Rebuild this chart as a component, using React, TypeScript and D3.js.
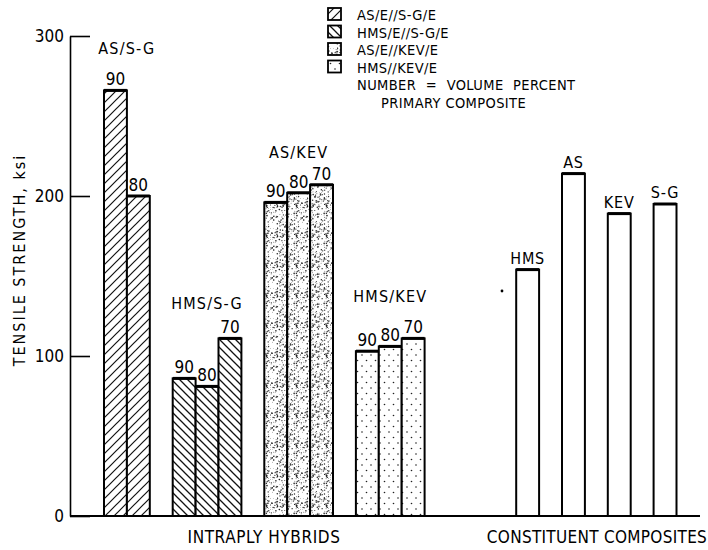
import { useEffect, useRef } from "react";
import { axisLeft, scaleBand, scaleLinear, select } from "d3";

// intraply hybrid groups (volume percent of primary composite above each bar)
const hybridGroups = ["AS/S-G", "HMS/S-G", "AS/KEV", "HMS/KEV"];
const hybridPercents = [
  [90, 80],
  [90, 80, 70],
  [90, 80, 70],
  [90, 80, 70],
];
const hybridStrength = [
  [266, 200],
  [86, 81, 111],
  [196, 202, 207],
  [103, 106, 111],
];

// constituent composites
const constituents = ["HMS", "AS", "KEV", "S-G"];
const constituentStrength = [154, 214, 189, 195];

const yTicks = [0, 100, 200, 300];
const legendLabels = ["AS/E//S-G/E", "HMS/E//S-G/E", "AS/E//KEV/E", "HMS//KEV/E"];
const legendNote = ["NUMBER = VOLUME PERCENT", "PRIMARY COMPOSITE"];

const FONT = "'DejaVu Sans Condensed', 'Liberation Sans Narrow', 'DejaVu Sans', sans-serif";
const patternIds = ["hatch-fwd", "hatch-back", "speckle", "dots"];
// how far each group title sits above its tallest bar
const groupLabelLift = [36, 29, 27, 36];

export default function App() {
  const svgRef = useRef<SVGSVGElement | null>(null);

  useEffect(() => {
    const svg = select(svgRef.current);
    svg.selectAll("*").remove();

    const width = 708;
    const height = 550;
    svg.attr("width", width).attr("height", height);
    svg.append("rect").attr("width", width).attr("height", height).attr("fill", "#fff");

    // ----- patterns
    const defs = svg.append("defs");
    const fwd = defs
      .append("pattern")
      .attr("id", "hatch-fwd")
      .attr("patternUnits", "userSpaceOnUse")
      .attr("width", 9)
      .attr("height", 9);
    fwd.append("rect").attr("width", 9).attr("height", 9).attr("fill", "#fff");
    fwd
      .append("path")
      .attr("d", "M-2,2 l4,-4 M0,9 l9,-9 M7,11 l4,-4")
      .attr("stroke", "#111")
      .attr("stroke-width", 1.2);

    const back = defs
      .append("pattern")
      .attr("id", "hatch-back")
      .attr("patternUnits", "userSpaceOnUse")
      .attr("width", 8)
      .attr("height", 8);
    back.append("rect").attr("width", 8).attr("height", 8).attr("fill", "#fff");
    back
      .append("path")
      .attr("d", "M-2,6 l4,4 M0,0 l8,8 M6,-2 l4,4")
      .attr("stroke", "#111")
      .attr("stroke-width", 1.3);

    // speckle texture: fixed pseudo-random dot layout
    const speck = defs
      .append("pattern")
      .attr("id", "speckle")
      .attr("patternUnits", "userSpaceOnUse")
      .attr("width", 30)
      .attr("height", 30);
    speck.append("rect").attr("width", 30).attr("height", 30).attr("fill", "#fff");
    let seed = 7;
    const lcg = () => {
      seed = (seed * 16807) % 2147483647;
      return (seed - 1) / 2147483646;
    };
    for (let i = 0; i < 170; i++) {
      speck
        .append("circle")
        .attr("cx", lcg() * 30)
        .attr("cy", lcg() * 30)
        .attr("r", 0.3 + lcg() * 0.5)
        .attr("fill", "#222");
    }

    const dots = defs
      .append("pattern")
      .attr("id", "dots")
      .attr("patternUnits", "userSpaceOnUse")
      .attr("width", 9)
      .attr("height", 11);
    dots.append("rect").attr("width", 9).attr("height", 11).attr("fill", "#fff");
    dots.append("circle").attr("cx", 2).attr("cy", 3).attr("r", 0.8).attr("fill", "#222");
    dots.append("circle").attr("cx", 6.5).attr("cy", 8.5).attr("r", 0.8).attr("fill", "#222");

    // ----- scales
    const y = scaleLinear().domain([0, 300]).range([516, 36]);

    // one slot per bar, empty slots between groups
    const slots: string[] = [];
    hybridGroups.forEach((g, gi) => {
      if (gi > 0) slots.push(`gap-${gi}`);
      hybridPercents[gi].forEach((p, j) => slots.push(`${g}-${j}`));
    });
    for (let i = 0; i < 4; i++) slots.push(`sep-${i}`);
    constituents.forEach((c, ci) => {
      if (ci > 0) slots.push(`cgap-${ci}`);
      slots.push(`c-${c}`);
    });
    const x = scaleBand().domain(slots).range([104, 104 + slots.length * 22.9]).padding(0);
    const bw = x.bandwidth();

    // ----- axis
    const yAxis = svg
      .append("g")
      .attr("transform", "translate(70,0)")
      .call(axisLeft(y).tickValues(yTicks).tickSizeInner(-20).tickSizeOuter(0).tickPadding(6));
    yAxis.select(".domain").attr("stroke", "#000").attr("stroke-width", 1.6);
    yAxis.selectAll(".tick line").attr("stroke", "#000").attr("stroke-width", 1.6);
    yAxis
      .selectAll(".tick text")
      .attr("font-family", FONT)
      .attr("font-size", 17)
      .attr("fill", "#000");

    svg
      .append("text")
      .attr("transform", `translate(25,${y(160)}) rotate(-90)`)
      .attr("text-anchor", "middle")
      .attr("font-family", FONT)
      .attr("font-size", 16)
      .attr("letter-spacing", 2)
      .text("TENSILE STRENGTH, ksi");

    // ----- bars
    const bars = svg.append("g");
    const drawBar = (key: string, v: number, fill: string) => {
      bars
        .append("rect")
        .attr("x", x(key)!)
        .attr("y", y(v))
        .attr("width", bw)
        .attr("height", y(0) - y(v))
        .attr("fill", fill)
        .attr("stroke", "#000")
        .attr("stroke-width", 2);
      bars
        .append("line")
        .attr("x1", x(key)!)
        .attr("x2", x(key)! + bw)
        .attr("y1", y(v))
        .attr("y2", y(v))
        .attr("stroke", "#000")
        .attr("stroke-width", 3);
    };

    const labels = svg
      .append("g")
      .attr("font-family", FONT)
      .attr("text-anchor", "middle");

    hybridGroups.forEach((g, gi) => {
      const vals = hybridStrength[gi];
      vals.forEach((v, j) => {
        const key = `${g}-${j}`;
        drawBar(key, v, `url(#${patternIds[gi]})`);
        labels
          .append("text")
          .attr("x", x(key)! + bw / 2)
          .attr("y", y(v) - 5)
          .attr("font-size", 17)
          .text(hybridPercents[gi][j]);
      });
      const first = x(`${g}-0`)!;
      const last = x(`${g}-${vals.length - 1}`)! + bw;
      labels
        .append("text")
        .attr("x", (first + last) / 2)
        .attr("y", y(Math.max(...vals)) - groupLabelLift[gi])
        .attr("font-size", 16)
        .attr("letter-spacing", 1.2)
        .text(g);
    });

    constituents.forEach((c, ci) => {
      const key = `c-${c}`;
      drawBar(key, constituentStrength[ci], "#fff");
      labels
        .append("text")
        .attr("x", x(key)! + bw / 2)
        .attr("y", y(constituentStrength[ci]) - 6)
        .attr("font-size", 16)
        .attr("letter-spacing", 0.8)
        .text(c);
    });

    // baseline
    svg
      .append("line")
      .attr("x1", 70)
      .attr("x2", 700)
      .attr("y1", y(0))
      .attr("y2", y(0))
      .attr("stroke", "#000")
      .attr("stroke-width", 2);

    // stray scan dot
    svg.append("circle").attr("cx", 502).attr("cy", 291).attr("r", 1.4).attr("fill", "#000");

    // section titles
    labels
      .append("text")
      .attr("x", 264)
      .attr("y", 543)
      .attr("font-size", 17)
      .attr("letter-spacing", 0.6)
      .text("INTRAPLY HYBRIDS");
    labels
      .append("text")
      .attr("x", 597)
      .attr("y", 543)
      .attr("font-size", 17)
      .attr("letter-spacing", 0.3)
      .text("CONSTITUENT COMPOSITES");

    // ----- legend
    const legend = svg
      .append("g")
      .attr("font-family", FONT)
      .attr("font-size", 14.5)
      .attr("letter-spacing", 0.4);
    legendLabels.forEach((l, i) => {
      const top = 8 + i * 17.5;
      legend
        .append("rect")
        .attr("x", 328)
        .attr("y", top)
        .attr("width", 13)
        .attr("height", 12)
        .attr("fill", `url(#${patternIds[i]})`)
        .attr("stroke", "#000")
        .attr("stroke-width", 1.8);
      legend
        .append("text")
        .attr("x", 357)
        .attr("y", top + 12)
        .text(l);
    });
    legend
      .append("text")
      .attr("x", 357)
      .attr("y", 90)
      .attr("word-spacing", 5)
      .text(legendNote[0]);
    legend.append("text").attr("x", 381).attr("y", 108).text(legendNote[1]);
  }, []);

  return <svg ref={svgRef} style={{ position: "absolute", left: 0, top: 0 }}></svg>;
}
